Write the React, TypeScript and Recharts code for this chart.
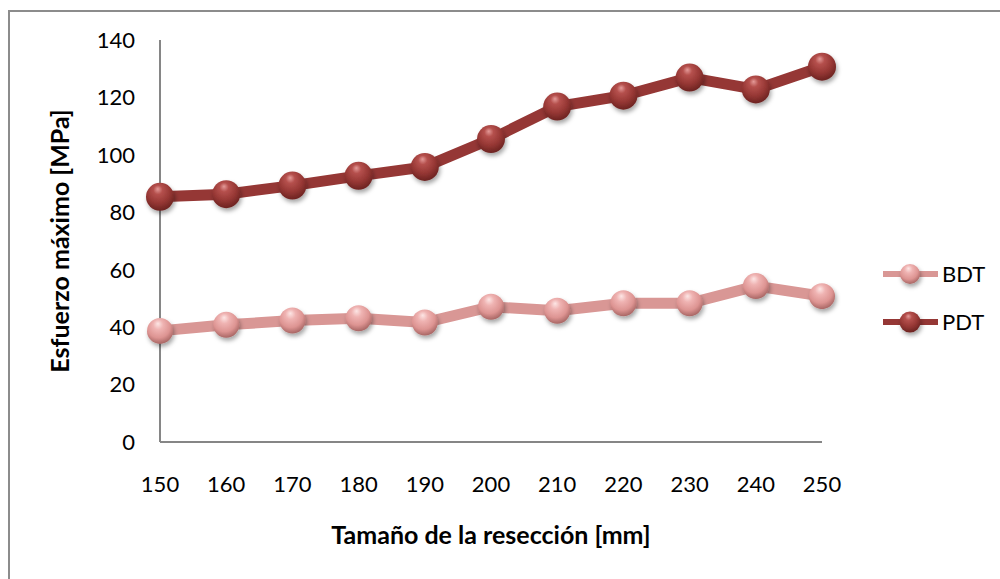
import { Label, Line, LineChart, XAxis, YAxis } from 'recharts';

const sizes = [150, 160, 170, 180, 190, 200, 210, 220, 230, 240, 250];
const bdt = [38.7, 40.8, 42.3, 43.1, 41.6, 47.1, 45.7, 48.3, 48.3, 54.3, 50.8];
const pdt = [85.4, 86.3, 89.3, 92.7, 95.8, 105.5, 116.8, 120.6, 126.9, 122.8, 130.7];
const yTicks = [0, 20, 40, 60, 80, 100, 120, 140];

const data = sizes.map((s, i) => ({ s, BDT: bdt[i], PDT: pdt[i] }));

const FONT = 'Lato, "Open Sans", sans-serif';

function Ball({ cx, cy, r, grad }: { cx?: number; cy?: number; r: number; grad: string }) {
  if (cx == null || cy == null) return null;
  return (
    <g filter="url(#shadow)">
      <circle cx={cx} cy={cy} r={r} fill={`url(#${grad})`} />
    </g>
  );
}

function LegendBox() {
  const items = [
    { name: 'BDT', line: '#d99795', grad: 'gBDT', r: 10 },
    { name: 'PDT', line: '#953735', grad: 'gPDT', r: 10.5 },
  ];
  return (
    <div style={{ position: 'absolute', left: 881, top: 262, fontFamily: FONT, fontSize: 22 }}>
      {items.map((it, i) => (
        <div key={it.name} style={{ display: 'flex', alignItems: 'center', height: 24, marginTop: i ? 24 : 0 }}>
          <svg width={58} height={24} style={{ overflow: 'visible' }}>
            <line x1={2} x2={57} y1={12} y2={12} stroke={it.line} strokeWidth={6} />
            <circle cx={29} cy={12} r={it.r} fill={`url(#${it.grad}L)`} filter="url(#shadowL)" />
          </svg>
          <span style={{ marginLeft: 3, color: '#000', lineHeight: '24px' }}>{it.name}</span>
        </div>
      ))}
    </div>
  );
}

function Grads({ suffix }: { suffix: string }) {
  return (
    <>
      <radialGradient id={`gPDT${suffix}`} cx="45%" cy="35%" r="65%" fx="42%" fy="22%">
        <stop offset="0%" stopColor="#e49a98" />
        <stop offset="25%" stopColor="#b5504d" />
        <stop offset="65%" stopColor="#963734" />
        <stop offset="100%" stopColor="#6c2321" />
      </radialGradient>
      <radialGradient id={`gBDT${suffix}`} cx="45%" cy="35%" r="65%" fx="42%" fy="22%">
        <stop offset="0%" stopColor="#fde6e5" />
        <stop offset="30%" stopColor="#efb3b2" />
        <stop offset="70%" stopColor="#dd9492" />
        <stop offset="100%" stopColor="#a86664" />
      </radialGradient>
      <filter id={`shadow${suffix}`} x="-50%" y="-50%" width="200%" height="200%">
        <feDropShadow dx="1.5" dy="3" stdDeviation="2" floodColor="#000" floodOpacity="0.35" />
      </filter>
    </>
  );
}

export default function App() {
  return (
    <div style={{ position: 'absolute', left: 0, top: 0, width: 1000, height: 579, overflow: 'hidden', background: '#fff' }}>
      <style>{'body{margin:0;overflow:hidden}'}</style>
      <svg width={0} height={0} style={{ position: 'absolute' }}>
        <defs>
          <Grads suffix="L" />
        </defs>
      </svg>
      <div style={{ position: 'absolute', left: 8, top: 10, width: 1100, height: 700, border: '2px solid #8c8c8c' }} />
      <div style={{ position: 'absolute', left: 0, top: 0 }}>
        <LineChart width={1000} height={579} data={data} margin={{ top: 40, right: 178, bottom: 0, left: 0 }}>
          <defs>
            <Grads suffix="" />
          </defs>
          <XAxis
            dataKey="s"
            type="number"
            domain={[150, 250]}
            ticks={sizes}
            height={137}
            tickLine={false}
            tickSize={30}
            tickMargin={4}
            stroke="#868686"
            strokeWidth={2}
            tick={{ fill: '#000', fontSize: 22, fontFamily: FONT }}
          >
            <Label
              value="Tamaño de la resección [mm]"
              position="insideTop"
              offset={84}
              style={{ fill: '#000', fontSize: 25, fontWeight: 700, fontFamily: FONT }}
            />
          </XAxis>
          <YAxis
            domain={[0, 140]}
            ticks={yTicks}
            width={160}
            tickLine={false}
            tickSize={20}
            tickMargin={5}
            stroke="#868686"
            strokeWidth={2}
            tick={{ fill: '#000', fontSize: 22, fontFamily: FONT }}
          >
            <Label
              value="Esfuerzo máximo [MPa]"
              angle={-90}
              position="insideLeft"
              offset={60}
              style={{ fill: '#000', fontSize: 25, fontWeight: 700, fontFamily: FONT, textAnchor: 'middle' }}
            />
          </YAxis>
          <Line
            dataKey="BDT"
            stroke="#d99795"
            strokeWidth={11}
            isAnimationActive={false}
            dot={(p: any) => <Ball key={`b${p.index}`} cx={p.cx} cy={p.cy} r={13} grad="gBDT" />}
            activeDot={false}
          />
          <Line
            dataKey="PDT"
            stroke="#953735"
            strokeWidth={11}
            isAnimationActive={false}
            dot={(p: any) => <Ball key={`p${p.index}`} cx={p.cx} cy={p.cy} r={14} grad="gPDT" />}
            activeDot={false}
          />
        </LineChart>
      </div>
      <LegendBox />
    </div>
  );
}
